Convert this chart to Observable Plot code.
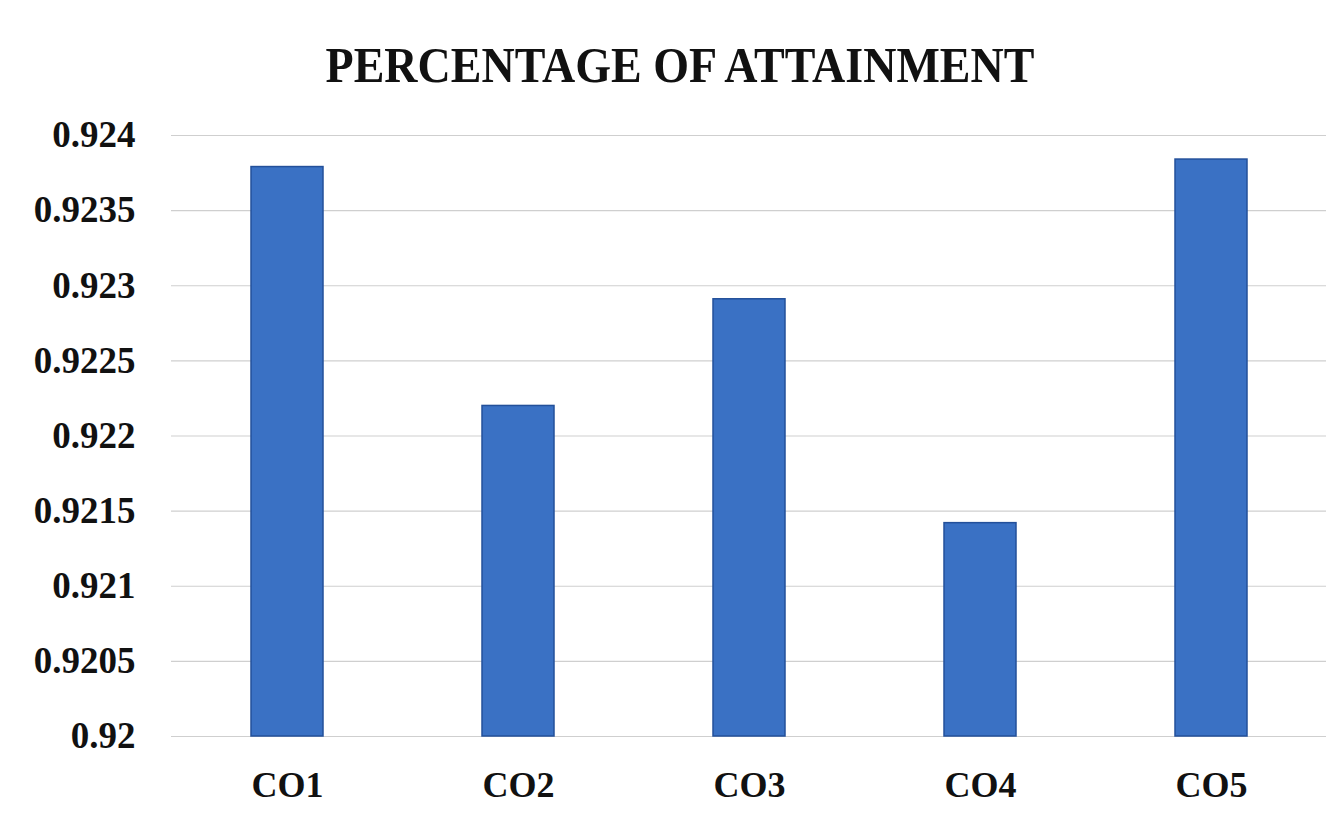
<!DOCTYPE html>
<html>
<head>
<meta charset="utf-8">
<script src="https://cdn.jsdelivr.net/npm/d3@7"></script>
<script src="https://cdn.jsdelivr.net/npm/@observablehq/plot@0.6"></script>
<style>
  html, body { margin: 0; padding: 0; background: #ffffff; }
  #wrap { width: 1336px; height: 815px; position: relative; overflow: hidden; }
  #title {
    height: 110px; width: 1336px; box-sizing: border-box;
    padding-left: 24px; padding-top: 42px;
    text-align: center;
    font-family: "Liberation Serif", "DejaVu Serif", serif;
    font-weight: bold; font-size: 46px; line-height: 46px; color: #111;
    transform: scaleY(1.12); transform-origin: 50% 60px;
  }
</style>
</head>
<body>
<div id="wrap">
  <div id="title">PERCENTAGE OF ATTAINMENT</div>
  <div id="chart"></div>
</div>
<script>
const categories = ["CO1", "CO2", "CO3", "CO4", "CO5"];
const values = [0.92379, 0.92220, 0.92291, 0.92142, 0.92384];
const yTicks = [0.92, 0.9205, 0.921, 0.9215, 0.922, 0.9225, 0.923, 0.9235, 0.924];
const yTickLabels = ["0.92", "0.9205", "0.921", "0.9215", "0.922", "0.9225", "0.923", "0.9235", "0.924"];

const data = categories.map((c, i) => ({co: c, value: values[i]}));

const chart = Plot.plot({
  width: 1336,
  height: 705,
  marginTop: 25,
  marginBottom: 79,
  marginLeft: 171,
  marginRight: 10,
  style: {
    fontFamily: "'Liberation Serif', 'DejaVu Serif', serif",
    fontWeight: "bold",
    fontSize: "36px",
    color: "#111",
    background: "transparent"
  },
  x: {domain: categories, paddingInner: 0.69, paddingOuter: 0.345, label: null},
  y: {domain: [yTicks[0], yTicks[yTicks.length - 1]], label: null},
  marks: [
    Plot.ruleY(yTicks, {stroke: "#cfcfcf", strokeWidth: 1.2}),
    Plot.barY(data, {x: "co", y1: () => yTicks[0], y2: "value", fill: "#3a71c4", stroke: "#23509a", strokeWidth: 1.5}),
    Plot.axisY({ticks: yTicks, tickSize: 0, tickPadding: 36, tickFormat: d => yTickLabels[yTicks.indexOf(d)], fontSize: 37, fontWeight: "bold"}),
    Plot.axisX({tickSize: 0, tickPadding: 35, fontSize: 36, fontWeight: "bold"})
  ]
});
document.getElementById("chart").appendChild(chart);
</script>
</body>
</html>
